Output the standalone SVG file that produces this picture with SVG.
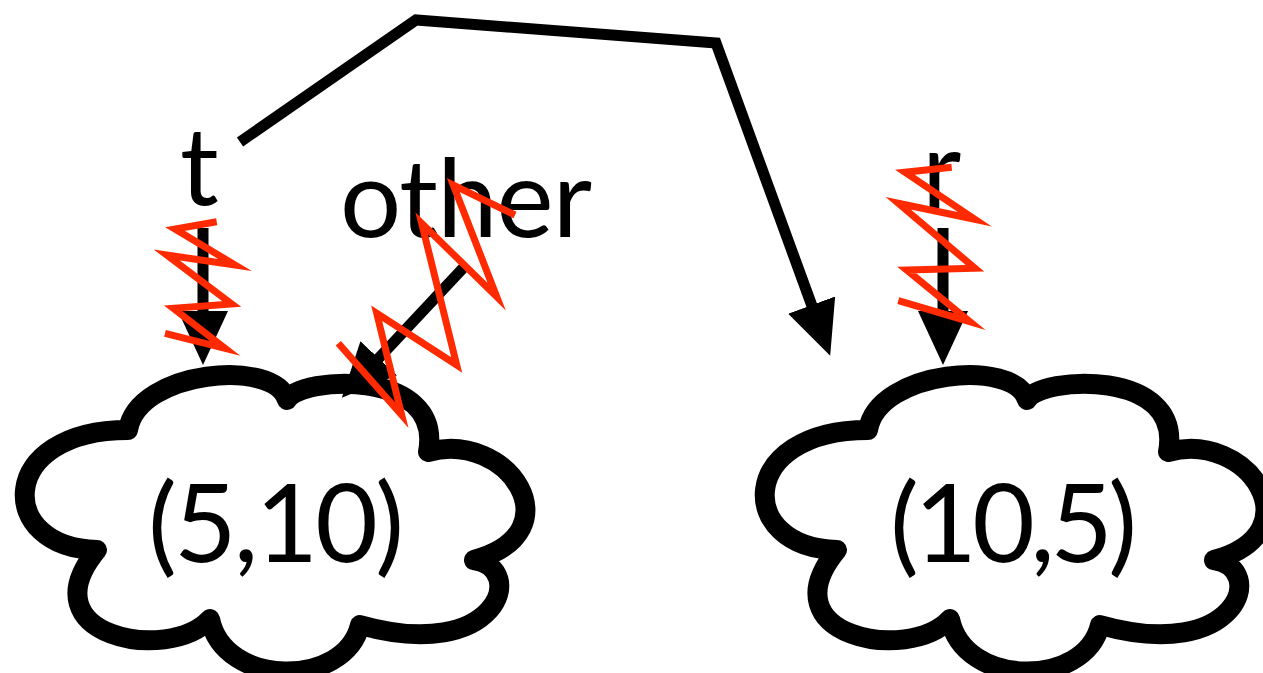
<svg xmlns="http://www.w3.org/2000/svg" xmlns:xlink="http://www.w3.org/1999/xlink" width="1263" height="673" viewBox="0 0 1263 673">
  <style>
    .cloud { fill: #ffffff; stroke: #000000; stroke-width: 20; stroke-linejoin: round; }
    .label { font-family: "Gill Sans", Lato, "Liberation Sans", sans-serif; font-size: 108px; fill: #000000; }
    .conn { fill: none; stroke: #000000; stroke-width: 11; stroke-linecap: butt; stroke-linejoin: miter; stroke-miterlimit: 10; }
    .zap { fill: none; stroke: #ff2a00; stroke-width: 7; stroke-linejoin: miter; stroke-miterlimit: 20; }
  </style>
  <defs>
    <!-- seven-lobed cloud outline, stroke centre line -->
    <path id="cloud" class="cloud" d="M128,430 C138,370 275,358 287,400 C300,376 444,368 428,452 C508,430 576,532 474,560 C528,568 498,664 360,625 C345,688 224,688 210,619 C168,664 26,636 97,550 C-4,548 -4,430 128,430 Z"/>
    <marker id="head" markerUnits="userSpaceOnUse" viewBox="0 0 54 50" markerWidth="54" markerHeight="50" refX="1" refY="25" orient="auto">
      <path d="M0,0 L54,25 L0,50 Z" fill="#000000"/>
    </marker>
  </defs>

  <g id="node-5-10">
    <use xlink:href="#cloud"/>
    <text class="label" x="148" y="562" textLength="256">(5,10)</text>
  </g>

  <g id="node-10-5">
    <use xlink:href="#cloud" transform="translate(740,0)"/>
    <text class="label" x="890" y="562" textLength="247">(10,5)</text>
  </g>

  <g id="labels">
    <text class="label" x="180" y="205">t</text>
    <text class="label" x="340" y="237" textLength="252">other</text>
    <text class="label" x="922" y="208">r</text>
  </g>

  <g id="connectors">
    <path class="conn" d="M240,142 L416,20 L716,43 L812,306" stroke-width="12" marker-end="url(#head)"/>
    <path class="conn" d="M203,228 L203,312" stroke-width="9" marker-end="url(#head)"/>
    <path class="conn" d="M465,266 L378,359" stroke-width="10" marker-end="url(#head)"/>
    <path class="conn" d="M943,228 L943,312" stroke-width="12" marker-end="url(#head)"/>
  </g>

  <g id="zaps">
    <polyline class="zap" points="216.7,221.7 175,229 235,265 166.7,255 231.7,304 173.3,308.3 225,348.3 165,333.3"/>
    <polyline class="zap" points="515,215 453.3,185 496.7,296.7 421.7,223.3 456.7,365 376.7,313.3 401.7,415 338.3,343.3"/>
    <polyline class="zap" points="951.7,167.3 905,172.3 975,219.3 898.3,203.3 975,268.3 906.7,270 970,321.7 898.3,300.7"/>
  </g>
</svg>
